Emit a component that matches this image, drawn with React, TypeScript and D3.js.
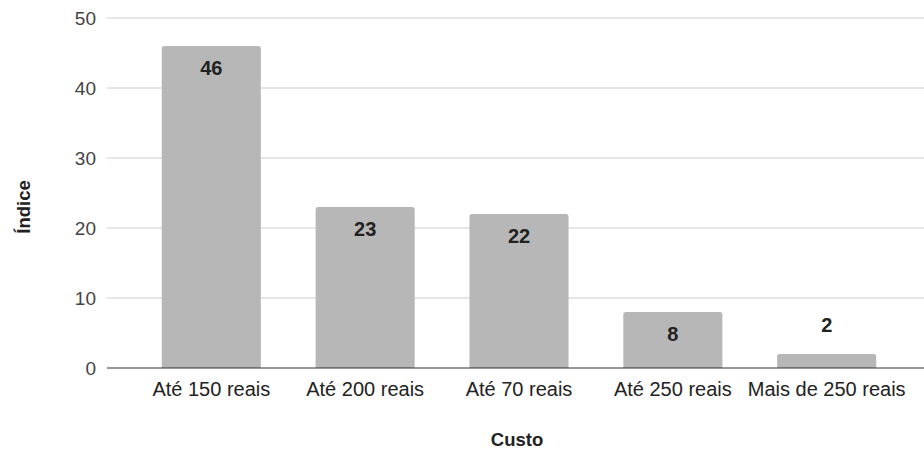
import React from "react";
import * as d3 from "d3";

const categories = ["Até 150 reais", "Até 200 reais", "Até 70 reais", "Até 250 reais", "Mais de 250 reais"];
const values = [46, 23, 22, 8, 2];
const yTicks = [0, 10, 20, 30, 40, 50];
const xTitle = "Custo";
const yTitle = "Índice";

const W = 924;
const H = 452;
const FONT = "Arial, 'Liberation Sans', sans-serif";

export default function App() {
  const x = d3.scaleBand<string>().domain(categories).range([107, 931]).padding(0.356);
  const y = d3.scaleLinear().domain([0, 50]).range([368, 18]);
  const r = 2.5;
  const barPath = (x0: number, y0: number, w: number, h: number) => {
    const p = d3.path();
    p.moveTo(x0, y0 + h);
    p.lineTo(x0, y0 + r);
    p.quadraticCurveTo(x0, y0, x0 + r, y0);
    p.lineTo(x0 + w - r, y0);
    p.quadraticCurveTo(x0 + w, y0, x0 + w, y0 + r);
    p.lineTo(x0 + w, y0 + h);
    p.closePath();
    return p.toString();
  };
  return (
    <svg width={W} height={H} style={{ position: "absolute", left: 0, top: 0, background: "#fff" }} fontFamily={FONT}>
      <rect x={0} y={0} width={W} height={H} fill="#fff" />
      {yTicks.map((t) => (
        <g key={t}>
          {t !== 0 && <line x1={107} x2={W} y1={y(t)} y2={y(t)} stroke="#cccccc" strokeWidth={1} />}
          <text x={96} y={y(t)} dy="0.35em" textAnchor="end" fontSize={19} fill="#444">{t}</text>
        </g>
      ))}
      {categories.map((c, i) => {
        const bx = x(c)!;
        const bw = x.bandwidth();
        const by = y(values[i]);
        const bh = y(0) - by;
        const inside = bh > 30;
        return (
          <g key={c}>
            <path d={barPath(bx, by, bw, bh)} fill="#b7b7b7" />
            <text x={bx + bw / 2} y={inside ? by + 28.5 : by - 22} textAnchor="middle" fontSize={20} fontWeight="bold" fill="#222">{values[i]}</text>
            <text x={bx + bw / 2} y={396} textAnchor="middle" fontSize={20} fill="#222">{c}</text>
          </g>
        );
      })}
      <line x1={107} x2={W} y1={y(0)} y2={y(0)} stroke="#333" strokeWidth={1.2} />
      <text x={517} y={446} textAnchor="middle" fontSize={18.5} fontWeight="bold" fill="#222">{xTitle}</text>
      <text transform={`translate(30,207) rotate(-90)`} textAnchor="middle" fontSize={18.5} fontWeight="bold" fill="#222">{yTitle}</text>
    </svg>
  );
}
